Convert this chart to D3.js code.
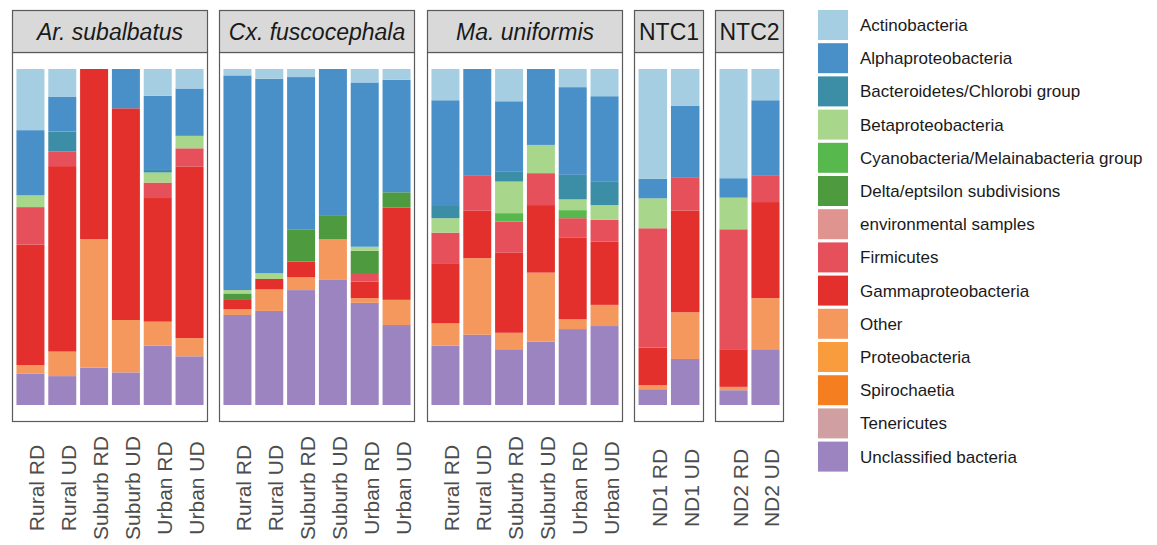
<!DOCTYPE html>
<html>
<head>
<meta charset="utf-8">
<script src="https://cdn.jsdelivr.net/npm/d3@7"></script>
<style>
  html, body { margin: 0; padding: 0; background: #ffffff; }
  svg { display: block; font-family: "Liberation Sans", Arial, Helvetica, sans-serif; }
</style>
</head>
<body>
<svg id="chart" width="1157" height="545"></svg>
<script>
// Mosquito groups (facets) and the samples inside each group
const panels = ["Ar. subalbatus", "Cx. fuscocephala", "Ma. uniformis", "NTC1", "NTC2"];
const italicPanels = [true, true, true, false, false];
const siteLabels = ["Rural RD", "Rural UD", "Suburb RD", "Suburb UD", "Urban RD", "Urban UD"];
const panelSamples = [siteLabels, siteLabels, siteLabels, ["ND1 RD", "ND1 UD"], ["ND2 RD", "ND2 UD"]];

// Taxa in legend order (top of each stack first)
const taxa = [
  "Actinobacteria", "Alphaproteobacteria", "Bacteroidetes/Chlorobi group",
  "Betaproteobacteria", "Cyanobacteria/Melainabacteria group", "Delta/eptsilon subdivisions",
  "environmental samples", "Firmicutes", "Gammaproteobacteria", "Other",
  "Proteobacteria", "Spirochaetia", "Tenericutes", "Unclassified bacteria"
];
const taxaColors = [
  "#a6cee3", "#4a90c8", "#3b8ea5", "#a8d68b", "#57b94d", "#4e9a3e", "#df948f",
  "#e6505a", "#e3302d", "#f5985e", "#f99c3e", "#f57f20", "#d09fa1", "#9b84c0"
];

// Relative abundance (%) per taxon; 22 samples in facet order:
// Ar x6, Cx x6, Ma x6, NTC1 x2, NTC2 x2
const actinobacteria   = [18.2,  8.2,  0.0,  0.0,  8.0,  5.8,   1.9,  2.9,  2.4,  0.0,  4.0,  3.2,   9.3,  0.0,  9.6,  0.0,  5.4,  8.1,  32.7, 10.9,  32.5,  9.3];
const alphaproteo      = [19.4, 10.4,  0.0, 11.7, 21.8, 14.1,  63.9, 57.9, 45.3, 43.5, 48.9, 33.5,  31.2, 31.8, 21.0, 22.6, 26.1, 25.3,   5.8, 21.5,   5.8, 22.3];
const bacteroidetes    = [ 0.0,  6.0,  0.0,  0.0,  1.0,  0.0,   0.0,  0.0,  0.0,  0.0,  0.0,  0.0,   3.9,  0.0,  2.9,  0.0,  7.3,  7.1,   0.0,  0.0,   0.0,  0.0];
const betaproteo       = [ 3.5,  0.0,  0.0,  0.0,  3.0,  3.7,   1.0,  1.7,  0.0,  0.0,  1.2,  0.0,   4.3,  0.0,  9.4,  8.4,  3.2,  4.4,   8.9,  0.0,   9.4,  0.0];
const cyanobacteria    = [ 0.0,  0.0,  0.0,  0.0,  0.0,  0.0,   0.0,  0.0,  0.0,  0.0,  0.0,  0.0,   0.0,  0.0,  2.5,  0.0,  2.4,  0.0,   0.0,  0.0,   0.0,  0.0];
const deltaEpsilon     = [ 0.0,  0.0,  0.0,  0.0,  0.0,  0.0,   1.7,  0.0,  9.6,  7.2,  6.9,  4.5,   0.0,  0.0,  0.0,  0.0,  0.0,  0.0,   0.0,  0.0,   0.0,  0.0];
const environmental    = [ 0.0,  0.0,  0.0,  0.0,  0.0,  0.0,   0.0,  0.0,  0.0,  0.0,  0.0,  0.0,   0.0,  0.0,  0.0,  0.0,  0.0,  0.0,   0.0,  0.0,   0.0,  0.0];
const firmicutes       = [11.2,  4.3,  0.0,  0.0,  4.6,  5.5,   0.0,  0.0,  0.0,  0.0,  2.3,  0.0,   9.1, 10.4,  9.3,  9.5,  5.7,  6.5,  35.5,  9.7,  35.7,  8.0];
const gammaproteo      = [35.8, 55.2, 50.6, 63.0, 36.8, 51.0,   3.0,  3.1,  4.7,  0.0,  4.9, 27.5,  17.9, 14.1, 23.8, 20.1, 24.4, 18.8,  11.2, 30.3,  11.2, 28.6];
const other            = [ 2.5,  7.3, 38.3, 15.6,  7.1,  5.4,   1.7,  6.4,  3.8, 11.9,  1.4,  7.5,   6.6, 22.8,  4.9, 20.5,  2.9,  6.3,   1.2, 13.9,   1.0, 15.2];
const proteobacteria   = [ 0.0,  0.0,  0.0,  0.0,  0.0,  0.0,   0.0,  0.0,  0.0,  0.0,  0.0,  0.0,   0.0,  0.0,  0.0,  0.0,  0.0,  0.0,   0.0,  0.0,   0.0,  0.0];
const spirochaetia     = [ 0.0,  0.0,  0.0,  0.0,  0.0,  0.0,   0.0,  0.0,  0.0,  0.0,  0.0,  0.0,   0.0,  0.0,  0.0,  0.0,  0.0,  0.0,   0.0,  0.0,   0.0,  0.0];
const tenericutes      = [ 0.0,  0.0,  0.0,  0.0,  0.0,  0.0,   0.0,  0.0,  0.0,  0.0,  0.0,  0.0,   0.0,  0.0,  0.0,  0.0,  0.0,  0.0,   0.0,  0.0,   0.0,  0.0];
const unclassified     = [ 9.4,  8.6, 11.1,  9.7, 17.7, 14.5,  26.8, 28.0, 34.2, 37.4, 30.4, 23.8,  17.7, 20.9, 16.6, 18.9, 22.6, 23.5,   4.7, 13.7,   4.4, 16.6];

const taxaValues = [
  actinobacteria, alphaproteo, bacteroidetes, betaproteo, cyanobacteria, deltaEpsilon,
  environmental, firmicutes, gammaproteo, other, proteobacteria, spirochaetia, tenericutes, unclassified
];

// ---- layout ----
const svg = d3.select("#chart");
const W = 1157, H = 545;
svg.append("rect").attr("width", W).attr("height", H).attr("fill", "#ffffff");

const stripTop = 10, stripBottom = 52, panelBottom = 422;
const plotTop = 69, plotBottom = 405;
const panelX = [[12, 208], [219, 415], [427, 623], [634, 704], [715, 784]];

const y = d3.scaleLinear().domain([0, 100]).range([plotBottom, plotTop]);
const color = d3.scaleOrdinal().domain(taxa).range(taxaColors);

// Build rows (one per sample) and stack bottom-up: last legend entry at the bottom
let idx = 0;
const rows = [];
panels.forEach((p, pi) => {
  panelSamples[pi].forEach(s => {
    const row = { panel: p, sample: s };
    taxa.forEach((t, ti) => { row[t] = taxaValues[ti][idx]; });
    rows.push(row);
    idx++;
  });
});
const stack = d3.stack().keys(taxa.slice().reverse());

const border = "#5a5a5a";

panels.forEach((p, pi) => {
  const [x0, x1] = panelX[pi];
  const g = svg.append("g");
  const data = rows.filter(r => r.panel === p);
  const x = d3.scaleBand().domain(data.map(d => d.sample)).range([x0, x1])
    .paddingInner(0.12).paddingOuter(0.14);

  // panel background
  g.append("rect").attr("x", x0).attr("y", stripBottom)
    .attr("width", x1 - x0).attr("height", panelBottom - stripBottom)
    .attr("fill", "#ffffff");

  // stacked bars
  const series = stack(data);
  g.selectAll("g.layer").data(series).join("g")
    .attr("class", "layer")
    .attr("fill", s => color(s.key))
    .selectAll("rect").data(s => s).join("rect")
      .attr("x", d => x(d.data.sample))
      .attr("width", x.bandwidth())
      .attr("y", d => y(d[1]))
      .attr("height", d => Math.max(0, y(d[0]) - y(d[1])));

  // panel border
  g.append("rect").attr("x", x0 + 0.5).attr("y", stripBottom + 0.5)
    .attr("width", x1 - x0 - 1).attr("height", panelBottom - stripBottom - 1)
    .attr("fill", "none").attr("stroke", border).attr("stroke-width", 1.2);

  // strip
  g.append("rect").attr("x", x0 + 0.5).attr("y", stripTop + 0.5)
    .attr("width", x1 - x0 - 1).attr("height", stripBottom - stripTop)
    .attr("fill", "#d9d9d9").attr("stroke", border).attr("stroke-width", 1.2);
  g.append("text")
    .attr("x", (x0 + x1) / 2).attr("y", 40)
    .attr("text-anchor", "middle")
    .attr("font-size", 23)
    .attr("font-style", italicPanels[pi] ? "italic" : "normal")
    .attr("fill", "#1a1a1a")
    .text(p);

  // x axis labels (rotated)
  const xAxis = d3.axisBottom(x).tickSize(0).tickPadding(0);
  const ax = g.append("g").attr("transform", `translate(0,${panelBottom})`).call(xAxis);
  ax.select(".domain").remove();
  ax.selectAll("text")
    .attr("font-size", 21)
    .attr("font-family", "Liberation Sans, Arial, sans-serif")
    .attr("fill", "#4d4d4d")
    .attr("text-anchor", "middle")
    .attr("dy", null)
    .attr("y", null)
    .attr("transform", `translate(14,66) rotate(-90)`);
});

// ---- legend ----
const legend = svg.append("g").attr("transform", "translate(818,10)");
const step = 33.2;
taxa.forEach((t, i) => {
  legend.append("rect")
    .attr("x", 0).attr("y", i * step)
    .attr("width", 30).attr("height", 30)
    .attr("fill", color(t));
  legend.append("text")
    .attr("x", 42).attr("y", i * step + 15)
    .attr("dy", "0.35em")
    .attr("font-size", 17)
    .attr("fill", "#1a1a1a")
    .text(t);
});
</script>
</body>
</html>
